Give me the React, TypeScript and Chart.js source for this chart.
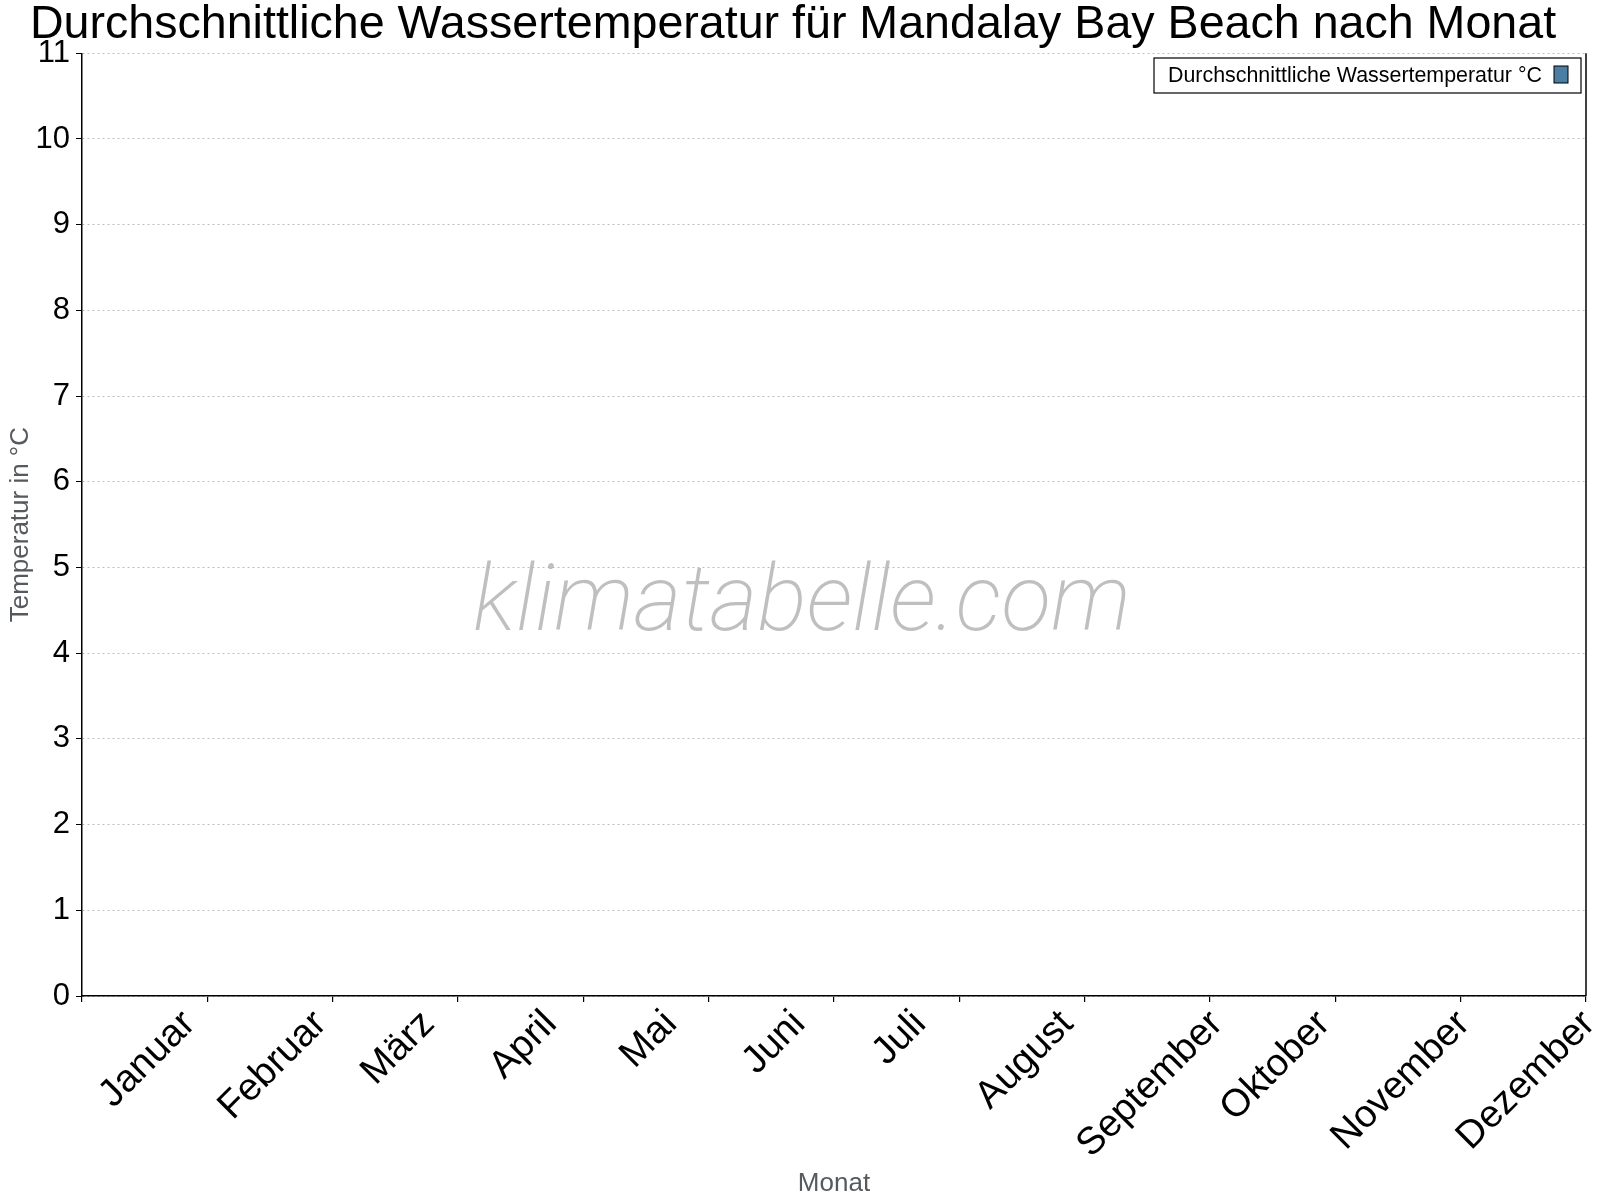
import React, { useEffect, useRef } from 'react';
import { Chart, registerables } from 'chart.js';

Chart.register(...registerables);

const months = [
  'Januar', 'Februar', 'März', 'April', 'Mai', 'Juni',
  'Juli', 'August', 'September', 'Oktober', 'November', 'Dezember',
];
// no bars visible in the picture
const waterTemp: (number | null)[] = [null, null, null, null, null, null, null, null, null, null, null, null];
const seriesLabel = 'Durchschnittliche Wassertemperatur °C';
const titleText = 'Durchschnittliche Wassertemperatur für Mandalay Bay Beach nach Monat';

const FONT = '"Liberation Sans", Arial, Helvetica, sans-serif';
const X_FONT = 38.5;

// month labels rotated around their centre, like the original
const xLabelsPlugin = {
  id: 'xLabels',
  afterDraw(chart: any) {
    const scale = chart.scales.x;
    const ctx = chart.ctx;
    ctx.save();
    ctx.font = `${X_FONT}px ${FONT}`;
    ctx.fillStyle = '#000';
    ctx.textAlign = 'center';
    ctx.textBaseline = 'middle';
    months.forEach((m, i) => {
      const x = scale.getPixelForTick(i);
      const w = ctx.measureText(m).width;
      const half = (w + X_FONT * 0.95) / Math.SQRT2 / 2;
      ctx.save();
      ctx.translate(x + 3, scale.top + 9 + half);
      ctx.rotate(-Math.PI / 4);
      ctx.fillText(m, 0, 0);
      ctx.restore();
    });
    ctx.restore();
  },
};

const framePlugin = {
  id: 'frame',
  afterDraw(chart: any) {
    const { ctx, chartArea } = chart;
    ctx.save();
    // right border
    ctx.strokeStyle = '#000';
    ctx.lineWidth = 1.5;
    ctx.beginPath();
    ctx.moveTo(chartArea.right, chartArea.top);
    ctx.lineTo(chartArea.right, chartArea.bottom);
    ctx.stroke();

    // watermark
    let size = 88;
    ctx.font = `italic 200 ${size}px Roboto, sans-serif`;
    const w0 = ctx.measureText('klimatabelle.com').width;
    size = size * 658 / w0;
    ctx.font = `italic 200 ${size}px Roboto, sans-serif`;
    ctx.fillStyle = 'rgba(175,175,175,0.8)';
    ctx.textAlign = 'center';
    ctx.textBaseline = 'alphabetic';
    ctx.fillText('klimatabelle.com', 802, 630);

    // legend, box on the right of the text
    const ds = chart.data.datasets[0];
    const bx = 1154, by = 58, bw = 427, bh = 35;
    ctx.fillStyle = '#fff';
    ctx.fillRect(bx, by, bw, bh);
    ctx.lineWidth = 1.2;
    ctx.strokeStyle = '#000';
    ctx.strokeRect(bx, by, bw, bh);
    ctx.font = `21.4px ${FONT}`;
    ctx.fillStyle = '#000';
    ctx.textAlign = 'left';
    ctx.textBaseline = 'middle';
    ctx.fillText(ds.label, 1168, by + bh / 2 + 1);
    ctx.fillStyle = ds.backgroundColor;
    ctx.fillRect(1554, 66, 14, 17);
    ctx.lineWidth = 1;
    ctx.strokeRect(1554, 66, 14, 17);
    ctx.restore();
  },
};

export default function App() {
  const canvasRef = useRef<HTMLCanvasElement | null>(null);

  useEffect(() => {
    const el = canvasRef.current;
    if (!el) return;

    const chart = new Chart(el, {
      type: 'bar',
      data: {
        labels: months,
        datasets: [
          {
            label: seriesLabel,
            data: waterTemp,
            backgroundColor: '#4a7fa3',
            borderColor: '#000',
            borderWidth: 1,
          },
        ],
      },
      options: {
        responsive: true,
        maintainAspectRatio: false,
        animation: false,
        layout: { padding: { left: 0, right: 14, top: 0, bottom: 0 } },
        plugins: {
          legend: { display: false },
          tooltip: { enabled: false },
          title: {
            display: true,
            text: titleText,
            color: '#000',
            font: { family: FONT, size: 46.6, weight: 'normal', lineHeight: 1.1 },
            padding: { top: 0, bottom: 2 },
          },
        },
        scales: {
          x: {
            offset: true,
            grid: {
              offset: true,
              drawOnChartArea: false,
              tickLength: 6,
              color: '#000',
              tickColor: '#000',
              lineWidth: 1.2,
            },
            border: { color: '#000', width: 1.5 },
            ticks: { display: false },
            title: {
              display: true,
              text: 'Monat',
              color: '#555a5f',
              font: { family: FONT, size: 26, lineHeight: 1.2 },
              padding: { top: 0, bottom: 1 },
            },
            afterFit: (scale: any) => {
              scale.height = 204;
            },
          },
          y: {
            min: 0,
            max: 11,
            ticks: {
              stepSize: 1,
              color: '#000',
              padding: 6,
              font: { family: FONT, size: 31 },
            },
            grid: {
              color: '#bdbdbd',
              tickBorderDash: [],
              tickColor: '#000',
              tickLength: 6,
              lineWidth: 1,
            },
            border: { color: '#000', width: 1.5, dash: [2, 3] },
            title: {
              display: true,
              text: 'Temperatur in °C',
              color: '#555a5f',
              font: { family: FONT, size: 26, lineHeight: 1.2 },
              padding: { top: 5, bottom: 0 },
            },
            afterFit: (scale: any) => {
              scale.width = 82;
            },
          },
        },
      } as any,
      plugins: [xLabelsPlugin, framePlugin],
    });

    return () => {
      chart.destroy();
    };
  }, []);

  return (
    <div style={{ position: 'fixed', left: 0, top: 0, width: 1600, height: 1200, background: '#fff' }}>
      <canvas ref={canvasRef} />
    </div>
  );
}
